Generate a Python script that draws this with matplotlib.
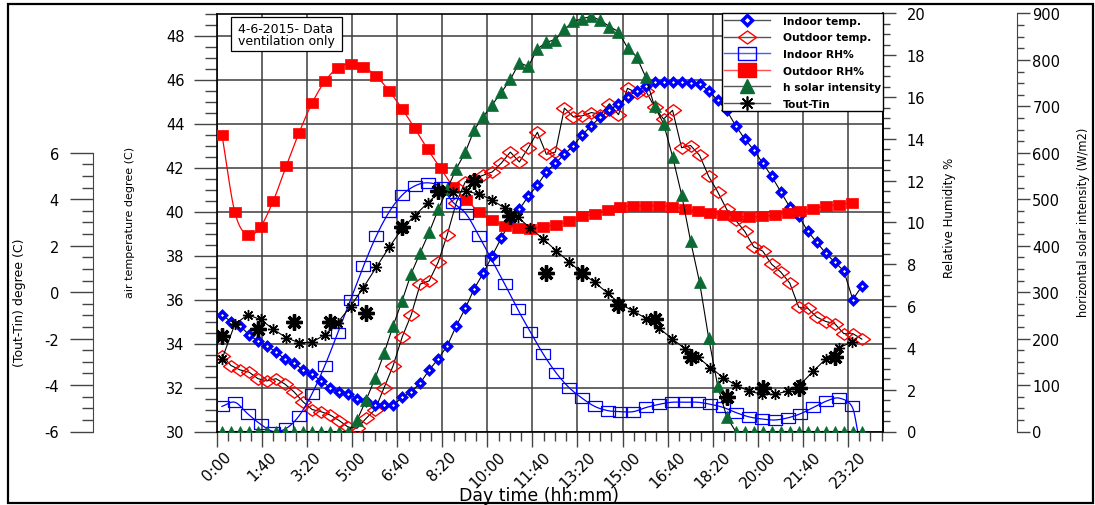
import numpy as np
import matplotlib
matplotlib.use("Agg")
import matplotlib.pyplot as plt
from matplotlib.lines import Line2D
from matplotlib.ticker import MultipleLocator, FixedLocator
import matplotlib.patches as mpatches

plt.rcParams['font.family'] = ['DejaVu Sans']
plt.rcParams['axes.unicode_minus'] = False

# ---------------- data ----------------
# sampling: series A every 20 min, series B every ~28.5 min, both starting at 0:11
t_start = 11.0
step_a = 20.0
step_b = 28.53

indoor_temp = [35.3, 35.0, 34.8, 34.4, 34.1, 33.9, 33.6, 33.3, 33.1, 32.8,
               32.6, 32.3, 32.0, 31.8, 31.7, 31.5, 31.4, 31.2, 31.2, 31.2,
               31.55, 31.8, 32.2, 32.8, 33.3, 33.9, 34.8, 35.6, 36.5, 37.2,
               38.0, 38.8, 39.55, 40.1, 40.7, 41.2, 41.8, 42.2, 42.6, 43.0,
               43.5, 43.9, 44.3, 44.6, 44.9, 45.2, 45.5, 45.7, 45.9, 45.9,
               45.9, 45.9, 45.85, 45.8, 45.5, 45.05, 44.6, 43.9, 43.3, 42.8,
               42.2, 41.6, 40.9, 40.2, 39.8, 39.1, 38.6, 38.1, 37.7, 37.3,
               36.0, 36.6]

outdoor_temp = [33.45, 33.0, 32.8, 32.7, 32.4, 32.3, 32.4, 32.15, 31.8, 31.35,
                31.0, 30.9, 30.75, 30.5, 30.2, 30.15, 30.6, 31.0, 32.0, 33.0,
                34.3, 35.3, 36.7, 36.85, 37.7, 38.95, 40.4, 41.35, 41.5, 41.65,
                41.8, 42.2, 42.7, 42.25, 42.9, 43.6, 42.6, 42.7, 44.7, 44.3,
                44.35, 44.5, 44.4, 44.9, 44.4, 45.6, 45.4, 45.5, 44.75, 44.2,
                44.6, 42.9, 43.0, 42.55, 41.6, 40.9, 40.1, 39.6, 39.1, 38.4,
                38.2, 37.6, 37.25, 36.75, 35.65, 35.6, 35.2, 35.0, 34.9, 34.45,
                34.45, 34.2]

solar = [0, 0, 0, 0, 0, 0, 0, 0, 0, 0, 0, 0, 0, 0, 0,
         25, 68, 115, 169, 228, 282, 340, 385, 429, 478,
         522, 566, 601, 650, 678, 704, 730, 758, 794, 786,
         824, 838, 844, 866, 883, 889, 894, 885, 872, 861,
         826, 807, 764, 700, 663, 592, 510, 410, 321, 202,
         99, 32,
         0, 0, 0, 0, 0, 0, 0, 0, 0, 0, 0, 0, 0, 0, 0]

indoor_rh = [1.2, 1.4, 0.85, 0.35, 0.0, 0.15, 0.75, 1.8, 3.15, 4.7,
             6.3, 7.9, 9.35, 10.5, 11.3, 11.75, 11.9, 11.7, 10.95, 10.4,
             9.35, 8.2, 7.05, 5.85, 4.75, 3.7, 2.8, 2.1, 1.6, 1.2,
             1.0, 0.95, 0.95, 1.15, 1.3, 1.4, 1.4, 1.4, 1.3, 1.15,
             0.9, 0.7, 0.6, 0.55, 0.65, 0.85, 1.15, 1.45, 1.6, 1.2]
indoor_rh_tail = 0.0  # curve end after last marker

outdoor_rh = [14.2, 10.5, 9.4, 9.8, 11.05, 12.7, 14.3, 15.7, 16.75, 17.4,
              17.6, 17.45, 17.0, 16.3, 15.45, 14.5, 13.5, 12.6, 11.7, 11.1,
              10.5, 10.1, 9.85, 9.75, 9.7, 9.8, 9.9, 10.05, 10.3, 10.4,
              10.6, 10.75, 10.8, 10.8, 10.8, 10.75, 10.65, 10.55, 10.45, 10.35,
              10.3, 10.25, 10.3, 10.35, 10.45, 10.55, 10.65, 10.8, 10.85, 10.95]

tout_tin = [-2.89, -1.38, -0.98, -1.17, -1.6, -1.96, -2.18, -2.15, -1.84, -1.31,
            -0.62, 0.2, 1.07, 1.93, 2.72, 3.3, 3.84, 4.36, 4.32, 4.34,
            4.23, 3.97, 3.62, 3.24, 2.75, 2.29, 1.78, 1.31, 0.82, 0.42,
            -0.04, -0.52, -0.81, -1.14, -1.55, -2.0, -2.43, -2.79, -3.25, -3.68,
            -4.01, -4.26, -4.4, -4.4, -4.26, -3.97, -3.4, -2.86, -2.39, -2.15]

# Tout-Tin at every 4th sample of series A (bold stars)
tout_tin_bold = [-1.89, -1.57, -1.28, -1.28, -0.91, 2.79, 4.37, 4.8, 3.29,
                 0.82, 0.82, -0.56, -1.17, -2.78, -4.5, -4.11, -4.14, -2.78]

xtick_labels = ["0:00", "1:40", "3:20", "5:00", "6:40", "8:20", "10:00", "11:40",
                "13:20", "15:00", "16:40", "18:20", "20:00", "21:40", "23:20"]

legend_labels = ["Indoor temp.", "Outdoor temp.", "Indoor RH%", "Outdoor RH%",
                 "h solar intensity", "Tout-Tin"]

time_a = t_start + step_a * np.arange(len(indoor_temp))
time_b = t_start + step_b * np.arange(len(indoor_rh))
time_bold = time_a[::4][:len(tout_tin_bold)]
xticks = np.arange(len(xtick_labels)) * 100


def smooth(x, y, n=10):
    """Catmull-Rom curve through the points (drawing only)."""
    x = np.asarray(x, float)
    y = np.asarray(y, float)
    xp = np.concatenate([[2 * x[0] - x[1]], x, [2 * x[-1] - x[-2]]])
    yp = np.concatenate([[2 * y[0] - y[1]], y, [2 * y[-1] - y[-2]]])
    s = np.linspace(0, 1, n, endpoint=False)[:, None]
    ox, oy = [], []
    for i in range(1, len(xp) - 2):
        for arr, out in ((xp, ox), (yp, oy)):
            p0, p1, p2, p3 = arr[i - 1], arr[i], arr[i + 1], arr[i + 2]
            v = 0.5 * ((2 * p1) + (-p0 + p2) * s + (2 * p0 - 5 * p1 + 4 * p2 - p3) * s ** 2
                       + (-p0 + 3 * p1 - 3 * p2 + p3) * s ** 3)
            out.extend(v.ravel())
    ox.append(x[-1])
    oy.append(y[-1])
    return np.array(ox), np.array(oy)


W, H = 1095, 506
fig = plt.figure(figsize=(W / 100, H / 100), dpi=100)

L, R, T, B = 217, 883, 14.5, 432.5
ax = fig.add_axes([L / W, 1 - B / H, (R - L) / W, (B - T) / H])
ax.set_facecolor('white')

wide_diamond = [(-1, 0), (0, 0.72), (1, 0), (0, -0.72), (-1, 0)]
rect = [(-1, -0.72), (1, -0.72), (1, 0.72), (-1, 0.72), (-1, -0.72)]
rect2 = [(-1, -0.8), (1, -0.8), (1, 0.8), (-1, 0.8), (-1, -0.8)]
star = (8, 2, 0)
green = '#0b6b33'

# main temperature axis
ax.set_xlim(0, 1478)
ax.set_ylim(30, 49)
ax.plot(time_a, outdoor_temp, color='black', lw=0.8, marker=wide_diamond, ms=11.5,
        mfc='none', mec='red', mew=1.0, zorder=3)
ax.plot(time_a, indoor_temp, color='black', lw=0.8, marker='D', ms=4.4,
        mfc='white', mec='blue', mew=2.5, zorder=4)

ax.xaxis.set_major_locator(FixedLocator(xticks))
ax.xaxis.set_minor_locator(MultipleLocator(25))
ax.set_xticklabels(xtick_labels, rotation=45, ha='center', va='top', fontsize=11)
ax.yaxis.set_major_locator(MultipleLocator(2))
ax.yaxis.set_minor_locator(MultipleLocator(0.5))
ax.tick_params(axis='y', which='major', direction='out', length=16.5, width=1,
               color='#444444', labelsize=10.5, pad=7)
ax.tick_params(axis='y', which='minor', direction='out', length=9, width=1, color='#444444')
ax.tick_params(axis='x', which='major', direction='out', length=11, width=1,
               color='#444444', pad=1.5)
ax.tick_params(axis='x', which='minor', direction='out', length=6.5, width=1, color='#444444')
ax.grid(True, which='major', color='#3c3c3c', lw=1.1, zorder=0)
ax.set_axisbelow(True)
for s in ax.spines.values():
    s.set_color('black')
    s.set_linewidth(1.2)

# RH axis
ax_rh = ax.twinx()
ax_rh.set_ylim(0, 20)
xs, ys = smooth(time_b, outdoor_rh)
ax_rh.plot(xs, ys, color='red', lw=0.9, zorder=2)
ax_rh.plot(time_b, outdoor_rh, ls='none', marker=rect2, ms=8.6, mfc='red', mec='red',
           mew=0.5, zorder=3)
xs, ys = smooth(np.append(time_b, time_b[-1] + step_b * 0.45), indoor_rh + [indoor_rh_tail])
ax_rh.plot(xs, ys, color='blue', lw=0.9, zorder=2)
ax_rh.plot(time_b, indoor_rh, ls='none', marker=rect, ms=9.4, mfc='none', mec='blue',
           mew=0.9, zorder=3)
ax_rh.yaxis.set_major_locator(MultipleLocator(2))
ax_rh.yaxis.set_minor_locator(MultipleLocator(0.5))
ax_rh.tick_params(axis='y', which='major', direction='out', length=9, width=1,
                  color='#444444', labelsize=10.5, pad=8)
ax_rh.tick_params(axis='y', which='minor', direction='out', length=5, width=1, color='#444444')
for k in ('left', 'top', 'bottom'):
    ax_rh.spines[k].set_visible(False)
ax_rh.spines['right'].set_linewidth(1.2)

# solar axis
ax_sol = ax.twinx()
ax_sol.set_ylim(0, 900)
ax_sol.spines['right'].set_position(('axes', (1017 - L) / (R - L)))
ax_sol.plot(time_a, solar, color='black', lw=0.8, marker='^', ms=8.5, mfc=green,
            mec=green, mew=0.5, zorder=3)
ax_sol.yaxis.set_major_locator(MultipleLocator(100))
ax_sol.yaxis.set_minor_locator(MultipleLocator(25))
ax_sol.tick_params(axis='y', which='major', direction='out', length=9.5, width=1,
                   color='#444444', labelsize=10.5, pad=1.5)
ax_sol.tick_params(axis='y', which='minor', direction='out', length=5, width=1, color='#444444')
for k in ('left', 'top', 'bottom'):
    ax_sol.spines[k].set_visible(False)
ax_sol.spines['right'].set_color('#444444')

# Tout-Tin axis
ax_tt = ax.twinx()
ax_tt.set_ylim(-6, 12)
ax_tt.yaxis.set_ticks_position('left')
ax_tt.spines['left'].set_visible(True)
ax_tt.spines['left'].set_position(('axes', (93 - L) / (R - L)))
ax_tt.spines['left'].set_bounds(-6, 6)
ax_tt.spines['left'].set_color('#444444')
for k in ('right', 'top', 'bottom'):
    ax_tt.spines[k].set_visible(False)
ax_tt.yaxis.set_major_locator(FixedLocator(np.arange(-6, 6.01, 2)))
ax_tt.yaxis.set_minor_locator(FixedLocator(np.arange(-6, 6.01, 0.5)))
ax_tt.tick_params(axis='y', which='major', direction='out', length=16.5, width=1,
                  color='#444444', labelsize=10.5, pad=8)
ax_tt.tick_params(axis='y', which='minor', direction='out', length=8, width=1, color='#444444')
ax_tt.plot(time_b, tout_tin, color='black', lw=0.8, marker=star, ms=8, mec='black',
           mew=1.0, zorder=3)
ax_tt.plot(time_bold, tout_tin_bold, ls='none', marker=star, ms=11.5, mec='black',
           mew=2.4, zorder=3)

# legend
handles = [
    Line2D([], [], color='#555555', lw=1, marker='D', ms=5.5, mfc='white', mec='blue', mew=2.5),
    Line2D([], [], color='#555555', lw=1, marker=wide_diamond, ms=13, mfc='none', mec='red', mew=1),
    Line2D([], [], color='#4a5cff', lw=1, marker=rect, ms=13, mfc='none', mec='blue', mew=1),
    Line2D([], [], color='#ff5050', lw=1, marker=rect2, ms=13, mfc='red', mec='red'),
    Line2D([], [], color='#555555', lw=1, marker='^', ms=10, mfc=green, mec=green),
    Line2D([], [], color='#555555', lw=1, marker=star, ms=10, mec='black', mew=1.2),
]
leg = ax_tt.legend(handles, legend_labels, loc='upper right', bbox_to_anchor=(1.0, 1.0),
                   borderaxespad=0, frameon=True, fancybox=False, framealpha=1,
                   edgecolor='black', prop={'weight': 'bold', 'size': 7.7},
                   handlelength=4.3, handletextpad=1.2, labelspacing=0.62, borderpad=0.2)
leg.get_frame().set_linewidth(1.0)
leg.set_zorder(20)

# axis titles
fig.text(20 / W, 1 - 303 / H, "(Tout-Tin) degree (C)", rotation=90, ha='center', va='center',
         fontsize=9)
fig.text(130 / W, 1 - 222 / H, "air temperature degree (C)", rotation=90, ha='center',
         va='center', fontsize=8)
fig.text(950 / W, 1 - 218 / H, "Relative Humidity %", rotation=90, ha='center', va='center',
         fontsize=8.5)
fig.text(1083 / W, 1 - 222 / H, "horizontal solar intensity (W/m2)", rotation=90,
         ha='center', va='center', fontsize=8.3)
fig.text(539 / W, 1 - 496 / H, "Day time (hh:mm)", ha='center', va='center', fontsize=12.5)

# note box
fig.patches.append(mpatches.Rectangle((231 / W, 1 - 52 / H), 111 / W, 34 / H,
                                      transform=fig.transFigure, fill=True, fc='white',
                                      ec='black', lw=0.9, zorder=30))
fig.text(238 / W, 1 - 35.5 / H, "4-6-2015- Data\nventilation only", ha='left', va='center',
         fontsize=9, linespacing=0.95, zorder=31)

# figure frame
fig.patches.append(mpatches.Rectangle((8 / W, 1 - 504 / H), 1085 / W, 499 / H,
                                      transform=fig.transFigure, fill=False, ec='black',
                                      lw=1.6, zorder=40))

fig.savefig("out.png", dpi=100)
